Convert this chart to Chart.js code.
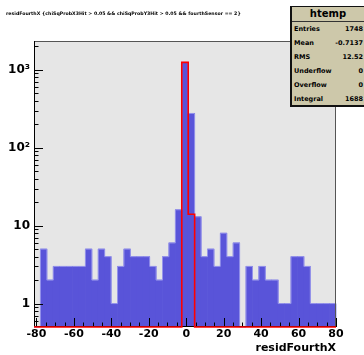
<!DOCTYPE html>
<html>
<head>
<meta charset="utf-8">
<script src="https://cdn.jsdelivr.net/npm/chart.js@4.4.0/dist/chart.umd.min.js"></script>
<style>
body{margin:0;background:#fff}
#wrap{position:relative;width:364px;height:355px;overflow:hidden;font-family:'DejaVu Sans',sans-serif;font-weight:bold;color:#000}
#title{position:absolute;left:6px;top:10.5px;font-size:4.7px;line-height:6px;white-space:nowrap}
#stats{position:absolute;left:290px;top:6px;width:72px;height:98px;background:rgb(205,200,170);border:1px solid #111;border-left:2px solid #111;border-bottom:2px solid #111;box-sizing:content-box}
#stats .ttl{height:14px;line-height:14px;text-align:center;font-size:10px;border-bottom:1px solid #333}
#stats .row{height:14px;line-height:14px;font-size:6.5px;display:flex;justify-content:space-between;padding:0 1px 0 2px}
</style>
</head>
<body>
<div id="wrap">
<canvas id="c" width="364" height="355"></canvas>
<div id="title"></div>
<div id="stats"></div>
</div>
<script>
const histTitle='residFourthX {chiSqProbX3Hit > 0.05 && chiSqProbY3Hit > 0.05 && fourthSensor == 2}'
const xTitle='residFourthX'
const xMin=-81.3
const xMax=80
const nBins=47
const counts=[0,5,2,3,3,3,3,3,5,2,5,4,1,3,5,4,4,4,3,2,4,6,16,1250,276,13,4,5,3,8,4,6,0,3,2,3,2,2,1,1,4,4,3,1,1,1,1]
const countsCut=[0,0,0,0,0,0,0,0,0,0,0,0,0,0,0,0,0,0,0,0,0,0,0,1250,14,0,0,0,0,0,0,0,0,0,0,0,0,0,0,0,0,0,0,0,0,0,0]
const yMin=0.5
const yMax=2350
const xTickValues=[-80,-60,-40,-20,0,20,40,60,80]
const xTickLabels=['-80','-60','-40','-20','0','20','40','60','80']
const yTickValues=[1,10,100,1000]
const yTickLabels=['1','10','10\u00b2','10\u00b3']
const statNames=['Entries','Mean','RMS','Underflow','Overflow','Integral']
const statValues=['1748','-0.7137','12.52','0','0','1688']

const binW=(xMax-xMin)/nBins
const font={family:"'DejaVu Sans', sans-serif",weight:'bold',size:11}

document.getElementById('title').textContent=histTitle
let html='<div class="ttl">htemp</div>'
for (let i=0;i<statNames.length;i++){
    html+=`<div class="row"><span>${statNames[i]}</span><span>${statValues[i]}</span></div>`
}
document.getElementById('stats').innerHTML=html

const histPlugin={
    id:'hist',
    beforeDraw(chart){
        const {ctx,chartArea:a}=chart
        ctx.save()
        ctx.fillStyle='#fff'
        ctx.fillRect(0,0,chart.width,chart.height)
        ctx.fillStyle='#e6e6e6'
        ctx.fillRect(a.left,a.top,a.right-a.left,a.bottom-a.top)
        ctx.restore()
    },
    afterDatasetsDraw(chart){
        const {ctx,chartArea:a,scales}=chart
        const x=scales.x, y=scales.y
        const edge=i=>x.getPixelForValue(xMin+i*binW)
        const lev=v=>v>0?y.getPixelForValue(v):a.bottom
        function step(vals){
            ctx.beginPath()
            ctx.moveTo(edge(0),a.bottom)
            for (let i=0;i<vals.length;i++){
                ctx.lineTo(edge(i),lev(vals[i]))
                ctx.lineTo(edge(i+1),lev(vals[i]))
            }
            ctx.lineTo(edge(vals.length),a.bottom)
            ctx.stroke()
        }
        ctx.save()
        ctx.strokeStyle='rgb(150,148,235)'
        ctx.lineWidth=1
        step(counts)

        // ticks pointing inside the frame, like ROOT
        ctx.strokeStyle='#000'
        ctx.lineWidth=1
        ctx.beginPath()
        for (let v=-80;v<=80;v+=5){
            const px=Math.round(x.getPixelForValue(v))+0.5
            const len=v%20==0?9:4.5
            ctx.moveTo(px,a.bottom)
            ctx.lineTo(px,a.bottom-len)
        }
        for (let e=-1;e<=3;e++){
            for (let m=1;m<=9;m++){
                const v=m*Math.pow(10,e)
                if (v<=yMin||v>=yMax) continue
                const py=Math.round(y.getPixelForValue(v))+0.5
                ctx.moveTo(a.left,py)
                ctx.lineTo(a.left+(m==1?9:4.5),py)
            }
        }
        ctx.stroke()

        ctx.strokeStyle='#555'
        ctx.beginPath()
        ctx.moveTo(a.left,a.top+0.5)
        ctx.lineTo(a.right-0.5,a.top+0.5)
        ctx.lineTo(a.right-0.5,a.bottom)
        ctx.stroke()
        ctx.strokeStyle='#000'
        ctx.beginPath()
        ctx.moveTo(a.left+0.5,a.top)
        ctx.lineTo(a.left+0.5,a.bottom-0.5)
        ctx.lineTo(a.right,a.bottom-0.5)
        ctx.stroke()

        ctx.strokeStyle='#f00'
        ctx.lineWidth=1.6
        step(countsCut)
        ctx.restore()
    }
}

new Chart(document.getElementById('c'),{
    type:'bar',
    data:{
        datasets:[{
            data:counts.map((c,i)=>({x:xMin+(i+0.5)*binW,y:c})),
            backgroundColor:'rgb(89,84,217)',
            borderWidth:0,
            barPercentage:1,
            categoryPercentage:1
        }]
    },
    options:{
        responsive:false,
        animation:false,
        events:[],
        layout:{padding:{top:41,right:28,left:0,bottom:0}},
        plugins:{legend:{display:false},tooltip:{enabled:false}},
        scales:{
            x:{
                type:'linear',min:xMin,max:xMax,offset:false,
                grid:{display:false,drawTicks:false},
                border:{display:false},
                afterBuildTicks:s=>{s.ticks=xTickValues.map(v=>({value:v}))},
                afterFit:s=>{s.height=28},
                ticks:{font:font,color:'#000',padding:1,maxRotation:0,autoSkip:false,
                    callback:(v,i)=>xTickLabels[i]},
                title:{display:true,text:xTitle,align:'end',color:'#000',font:font,padding:{top:0,bottom:0}}
            },
            y:{
                type:'logarithmic',min:yMin,max:yMax,
                grid:{display:false,drawTicks:false},
                border:{display:false},
                afterBuildTicks:s=>{s.ticks=yTickValues.map(v=>({value:v}))},
                afterFit:s=>{s.width=34},
                ticks:{font:Object.assign({},font,{size:12}),color:'#000',padding:4,autoSkip:false,
                    callback:(v,i)=>yTickLabels[i]}
            }
        }
    },
    plugins:[histPlugin]
})
</script>
</body>
</html>
